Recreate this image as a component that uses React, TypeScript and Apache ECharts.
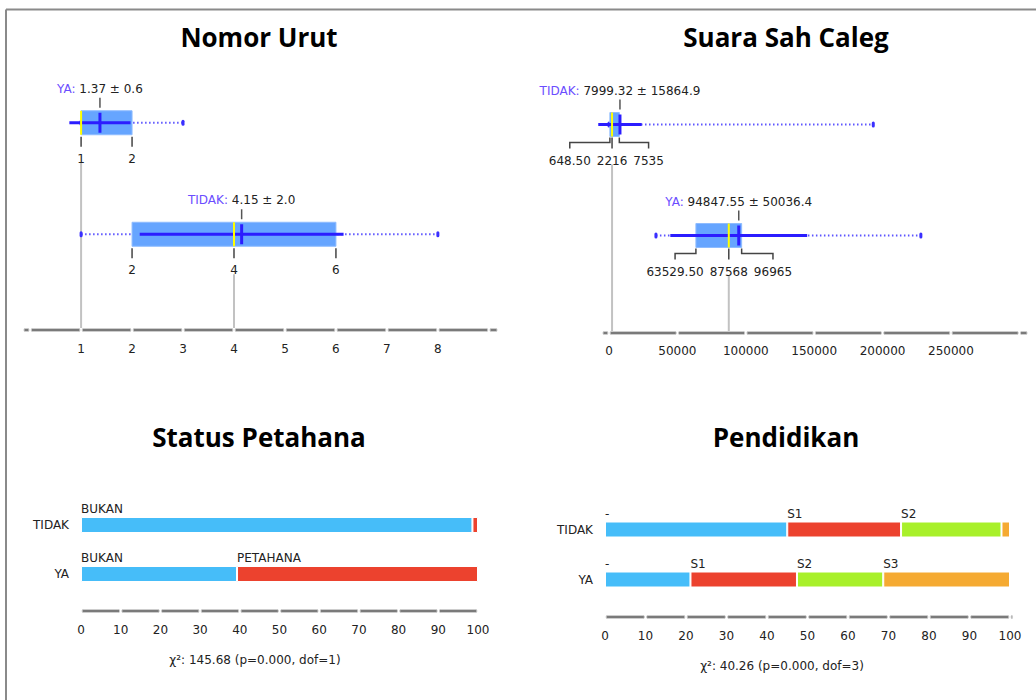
import React, { useEffect, useRef } from 'react';
import * as echarts from 'echarts';

const FONT_FAMILY = '"DejaVu Sans", Verdana, sans-serif';
const SMALL_FONT = '12px "DejaVu Sans", Verdana, sans-serif';
const TITLE_FONT = 'bold 26px "Open Sans", "Noto Sans", sans-serif';

// ---------- Nomor Urut (box plot) ----------
const NOMOR_ROWS = ['YA', 'TIDAK'];
const NOMOR_MIN = [1, 1];
const NOMOR_Q1 = [1, 2];
const NOMOR_MEDIAN = [1, 4];
const NOMOR_Q3 = [2, 6];
const NOMOR_MAX = [3, 8];
const NOMOR_MEAN = [1.37, 4.15];
const NOMOR_SD = [0.6, 2.0];
const NOMOR_TICKS = [1, 2, 3, 4, 5, 6, 7, 8];
const NOMOR_BREAKS = [0, 1, 2, 3, 4, 5, 6, 7, 8, 9];

// ---------- Suara Sah Caleg (box plot) ----------
const SUARA_ROWS = ['TIDAK', 'YA'];
const SUARA_MIN = [0, 34300];
const SUARA_Q1 = [648.5, 63529.5];
const SUARA_MEDIAN = [2216, 87568];
const SUARA_Q3 = [7535, 96965];
const SUARA_MAX = [193200, 228000];
const SUARA_MEAN = [7999.32, 94847.55];
const SUARA_SD = [15864.9, 50036.4];
const SUARA_TICKS = [0, 50000, 100000, 150000, 200000, 250000];
const SUARA_BREAKS = [0, 50000, 100000, 150000, 200000, 250000, 300000];

// ---------- Status Petahana (stacked %) ----------
const PETAHANA_ROWS = ['TIDAK', 'YA'];
const PETAHANA_BUKAN = [98.6, 39.3];
const PETAHANA_PETAHANA = [1.4, 60.7];
const PETAHANA_CHI = 'χ²: 145.68 (p=0.000, dof=1)';

// ---------- Pendidikan (stacked %) ----------
const PENDIDIKAN_ROWS = ['TIDAK', 'YA'];
const PENDIDIKAN_DASH = [45.0, 21.1];
const PENDIDIKAN_S1 = [28.1, 26.3];
const PENDIDIKAN_S2 = [24.8, 21.3];
const PENDIDIKAN_S3 = [2.1, 31.3];
const PENDIDIKAN_CHI = 'χ²: 40.26 (p=0.000, dof=3)';

const PERCENT_BREAKS = [0, 10, 20, 30, 40, 50, 60, 70, 80, 90, 100];

const COLORS = {
  blue: '#46bdf9',
  red: '#ec422e',
  green: '#a8f02a',
  orange: '#f5aa32',
};

let measureCtx: CanvasRenderingContext2D | null = null;
function textWidth(t: string, font: string) {
  if (!measureCtx) measureCtx = document.createElement('canvas').getContext('2d');
  if (!measureCtx) return t.length * 7;
  measureCtx.font = font;
  return measureCtx.measureText(t).width;
}

function fmtQ(v: number) {
  return Number.isInteger(v) ? String(v) : v.toFixed(2);
}

function makeAxisBar(gridIndex: number, xmin: number, xmax: number, breaks: number[], offset: number) {
  return {
    type: 'custom',
    xAxisIndex: gridIndex,
    yAxisIndex: gridIndex,
    silent: true,
    encode: { x: 0, y: 1 },
    data: [[xmin, 0]],
    renderItem: (params: any, api: any) => {
      const cs = params.coordSys;
      const y = cs.y + cs.height + offset;
      const X = (v: number) => api.coord([v, 0])[0];
      const inner = breaks.filter((b) => b >= xmin && b <= xmax);
      const edges = [xmin, ...inner, xmax];
      const children: any[] = [];
      for (let i = 0; i < edges.length - 1; i++) {
        const a = edges[i];
        const b = edges[i + 1];
        const x1 = X(a) + (inner.includes(a) ? 1.2 : 0);
        const x2 = X(b) - (inner.includes(b) ? 1.2 : 0);
        if (x2 - x1 < 0.5) continue;
        children.push({
          type: 'rect',
          shape: { x: x1, y: y - 1.5, width: x2 - x1, height: 3, r: 1 },
          style: { fill: '#7a7a7a', stroke: '#cdcdcd', lineWidth: 1 },
        });
      }
      return { type: 'group', children };
    },
  };
}

function makeBoxSeries(
  gridIndex: number,
  rows: string[],
  mins: number[],
  q1s: number[],
  meds: number[],
  q3s: number[],
  maxs: number[],
  means: number[],
  sds: number[],
  axisOffset: number
) {
  const data = rows.map((_, i) => [i, mins[i], q1s[i], meds[i], q3s[i], maxs[i], means[i], sds[i]]);
  return {
    type: 'custom',
    xAxisIndex: gridIndex,
    yAxisIndex: gridIndex,
    silent: true,
    encode: { x: [1, 2, 3, 4, 5], y: 0 },
    data,
    renderItem: (params: any, api: any) => {
      const ri = api.value(0);
      const mn = api.value(1);
      const q1 = api.value(2);
      const md = api.value(3);
      const q3 = api.value(4);
      const mx = api.value(5);
      const mean = api.value(6);
      const sd = api.value(7);
      const cs = params.coordSys;
      const axisY = cs.y + cs.height + axisOffset;
      const c = api.coord([md, ri])[1];
      const X = (v: number) => api.coord([v, ri])[0];
      const dark = '#2b1dff';
      const children: any[] = [];

      // grey median guide to axis
      children.push({
        type: 'line',
        shape: { x1: X(md), y1: c + 40, x2: X(md), y2: axisY - 2 },
        style: { stroke: '#c2c2c2', lineWidth: 2 },
      });
      // dotted whisker
      children.push({
        type: 'line',
        shape: { x1: X(mn), y1: c, x2: X(mx), y2: c },
        style: { stroke: '#5d55ff', lineWidth: 2, lineDash: [1.5, 2.5] },
      });
      [mn, mx].forEach((v) => {
        children.push({
          type: 'rect',
          shape: { x: X(v) - 1.5, y: c - 3, width: 3, height: 6, r: 1.5 },
          style: { fill: '#3a2fff' },
        });
      });
      // box
      children.push({
        type: 'rect',
        shape: { x: X(q1), y: c - 12, width: Math.max(1, X(q3) - X(q1)), height: 24 },
        style: { fill: '#66a5ff', stroke: '#8fbcff', lineWidth: 1 },
      });
      // sd line
      children.push({
        type: 'line',
        shape: { x1: X(mean - sd), y1: c, x2: X(mean + sd), y2: c },
        style: { stroke: dark, lineWidth: 3 },
      });
      // median
      children.push({
        type: 'line',
        shape: { x1: X(md), y1: c - 12, x2: X(md), y2: c + 12 },
        style: { stroke: '#ffff00', lineWidth: 2 },
      });
      // mean
      children.push({
        type: 'line',
        shape: { x1: X(mean), y1: c - 10, x2: X(mean), y2: c + 10 },
        style: { stroke: dark, lineWidth: 3 },
      });
      // label tick + label
      children.push({
        type: 'line',
        shape: { x1: X(mean), y1: c - 25, x2: X(mean), y2: c - 15 },
        style: { stroke: '#555', lineWidth: 1.5 },
      });
      children.push({
        type: 'text',
        style: {
          text: `{n|${rows[ri]}:} {v|${mean.toFixed(2)} ± ${sd.toFixed(1)}}`,
          x: X(mean),
          y: c - 34,
          align: 'center',
          verticalAlign: 'middle',
          font: SMALL_FONT,
          rich: {
            n: { fill: '#6b4dff', font: SMALL_FONT },
            v: { fill: '#222', font: SMALL_FONT },
          },
        },
      });

      // quartile labels
      const vals: number[] = [];
      [q1, md, q3].forEach((v) => {
        if (!vals.includes(v)) vals.push(v);
      });
      const labels = vals.map(fmtQ);
      const xs = vals.map(X);
      const ws = labels.map((t) => textWidth(t, SMALL_FONT));
      let overlap = false;
      for (let i = 0; i < vals.length - 1; i++) {
        if (xs[i + 1] - xs[i] < (ws[i] + ws[i + 1]) / 2 + 6) overlap = true;
      }
      const lineStyle = { stroke: '#444', lineWidth: 1.5, fill: 'none' };
      const pushLabel = (t: string, x: number) =>
        children.push({
          type: 'text',
          style: { text: t, x, y: c + 36, align: 'center', verticalAlign: 'middle', font: SMALL_FONT, fill: '#222' },
        });
      if (!overlap || vals.length !== 3) {
        vals.forEach((v, i) => {
          children.push({ type: 'line', shape: { x1: xs[i], y1: c + 14, x2: xs[i], y2: c + 24 }, style: lineStyle });
          pushLabel(labels[i], xs[i]);
        });
      } else {
        const gap = 6;
        const mxp = xs[1];
        const lc = mxp - ws[1] / 2 - gap - ws[0] / 2;
        const rc = mxp + ws[1] / 2 + gap + ws[2] / 2;
        children.push({
          type: 'polyline',
          shape: { points: [[xs[0], c + 13], [xs[0], c + 18], [lc, c + 18], [lc, c + 24]] },
          style: lineStyle,
        });
        children.push({ type: 'line', shape: { x1: mxp, y1: c + 13, x2: mxp, y2: c + 24 }, style: lineStyle });
        children.push({
          type: 'polyline',
          shape: { points: [[xs[2], c + 13], [xs[2], c + 18], [rc, c + 18], [rc, c + 24]] },
          style: lineStyle,
        });
        pushLabel(labels[0], lc);
        pushLabel(labels[1], mxp);
        pushLabel(labels[2], rc);
      }
      return { type: 'group', children };
    },
  };
}

function stackSeries(gridIndex: number, name: string, data: number[], color: string, stack: string) {
  return {
    type: 'bar',
    name,
    stack,
    xAxisIndex: gridIndex,
    yAxisIndex: gridIndex,
    barWidth: 16,
    silent: true,
    data,
    itemStyle: { color, borderColor: '#ffffff', borderWidth: 1 },
    label: {
      show: true,
      position: [0, -2],
      align: 'left',
      verticalAlign: 'bottom',
      color: '#222',
      fontSize: 12,
      fontFamily: FONT_FAMILY,
      formatter: (p: any) => (p.value >= 5 ? p.seriesName : ''),
    },
  };
}

const axisLabelBase = { color: '#222', fontSize: 12, fontFamily: FONT_FAMILY };
const plainNumber = (v: number) => String(v);

export default function App() {
  const ref = useRef<HTMLDivElement>(null);
  useEffect(() => {
    if (!ref.current) return;
    const chart = echarts.init(ref.current, undefined, { renderer: 'svg' });
    const NOMOR_XMIN = -0.12;
    const NOMOR_XMAX = 9.16;
    const SUARA_XMIN = -4400;
    const SUARA_XMAX = 305600;
    const option: any = {
      animation: false,
      backgroundColor: '#ffffff',
      grid: [
        { left: 24, width: 473, top: 67, height: 223 },
        { left: 603, width: 424, top: 69, height: 222 },
        { left: 81, width: 397, top: 500.5, height: 98 },
        { left: 605, width: 405, top: 504.5, height: 100 },
      ],
      xAxis: [
        {
          gridIndex: 0, type: 'value', min: NOMOR_XMIN, max: NOMOR_XMAX, position: 'bottom', offset: 40,
          axisLine: { show: false }, axisTick: { show: false }, splitLine: { show: false },
          axisLabel: { ...axisLabelBase, customValues: NOMOR_TICKS, margin: 13, formatter: plainNumber },
        },
        {
          gridIndex: 1, type: 'value', min: SUARA_XMIN, max: SUARA_XMAX, position: 'bottom', offset: 42,
          axisLine: { show: false }, axisTick: { show: false }, splitLine: { show: false },
          axisLabel: { ...axisLabelBase, customValues: SUARA_TICKS, margin: 12, formatter: plainNumber },
        },
        {
          gridIndex: 2, type: 'value', min: 0, max: 100, interval: 10, position: 'bottom', offset: 12.5,
          axisLine: { show: false }, axisTick: { show: false }, splitLine: { show: false },
          axisLabel: { ...axisLabelBase, margin: 13 },
        },
        {
          gridIndex: 3, type: 'value', min: 0, max: 100, interval: 10, position: 'bottom', offset: 12.5,
          axisLine: { show: false }, axisTick: { show: false }, splitLine: { show: false },
          axisLabel: { ...axisLabelBase, margin: 13 },
        },
      ],
      yAxis: [
        { gridIndex: 0, type: 'category', data: NOMOR_ROWS, inverse: true, show: false },
        { gridIndex: 1, type: 'category', data: SUARA_ROWS, inverse: true, show: false },
        {
          gridIndex: 2, type: 'category', data: PETAHANA_ROWS, inverse: true,
          axisLine: { show: false }, axisTick: { show: false }, splitLine: { show: false },
          axisLabel: { ...axisLabelBase, margin: 12 },
        },
        {
          gridIndex: 3, type: 'category', data: PENDIDIKAN_ROWS, inverse: true,
          axisLine: { show: false }, axisTick: { show: false }, splitLine: { show: false },
          axisLabel: { ...axisLabelBase, margin: 12 },
        },
      ],
      series: [
        makeAxisBar(0, NOMOR_XMIN, NOMOR_XMAX, NOMOR_BREAKS, 40),
        makeAxisBar(1, SUARA_XMIN, SUARA_XMAX, SUARA_BREAKS, 42),
        makeAxisBar(2, -0.3, 100.4, PERCENT_BREAKS, 12.5),
        makeAxisBar(3, -0.3, 100.6, PERCENT_BREAKS, 12.5),
        makeBoxSeries(0, NOMOR_ROWS, NOMOR_MIN, NOMOR_Q1, NOMOR_MEDIAN, NOMOR_Q3, NOMOR_MAX, NOMOR_MEAN, NOMOR_SD, 40),
        makeBoxSeries(1, SUARA_ROWS, SUARA_MIN, SUARA_Q1, SUARA_MEDIAN, SUARA_Q3, SUARA_MAX, SUARA_MEAN, SUARA_SD, 42),
        stackSeries(2, 'BUKAN', PETAHANA_BUKAN, COLORS.blue, 'p'),
        stackSeries(2, 'PETAHANA', PETAHANA_PETAHANA, COLORS.red, 'p'),
        stackSeries(3, '-', PENDIDIKAN_DASH, COLORS.blue, 'e'),
        stackSeries(3, 'S1', PENDIDIKAN_S1, COLORS.red, 'e'),
        stackSeries(3, 'S2', PENDIDIKAN_S2, COLORS.green, 'e'),
        stackSeries(3, 'S3', PENDIDIKAN_S3, COLORS.orange, 'e'),
      ],
      graphic: [
        { type: 'line', shape: { x1: 6, y1: 9.5, x2: 1036, y2: 9.5 }, style: { stroke: '#8a8a8a', lineWidth: 2 }, silent: true },
        { type: 'line', shape: { x1: 6, y1: 9.5, x2: 6, y2: 700 }, style: { stroke: '#8a8a8a', lineWidth: 2 }, silent: true },
        { type: 'text', x: 259, y: 37, style: { text: 'Nomor Urut', font: TITLE_FONT, fill: '#000', align: 'center', verticalAlign: 'middle' } },
        { type: 'text', x: 786, y: 37, style: { text: 'Suara Sah Caleg', font: TITLE_FONT, fill: '#000', align: 'center', verticalAlign: 'middle' } },
        { type: 'text', x: 259, y: 437, style: { text: 'Status Petahana', font: TITLE_FONT, fill: '#000', align: 'center', verticalAlign: 'middle' } },
        { type: 'text', x: 786, y: 437, style: { text: 'Pendidikan', font: TITLE_FONT, fill: '#000', align: 'center', verticalAlign: 'middle' } },
        { type: 'text', x: 255, y: 660, style: { text: PETAHANA_CHI, font: SMALL_FONT, fill: '#222', align: 'center', verticalAlign: 'middle' } },
        { type: 'text', x: 782, y: 666, style: { text: PENDIDIKAN_CHI, font: SMALL_FONT, fill: '#222', align: 'center', verticalAlign: 'middle' } },
      ],
    };
    chart.setOption(option);
    return () => chart.dispose();
  }, []);
  return <div ref={ref} style={{ position: 'absolute', left: 0, top: 0, width: 1036, height: 700 }} />;
}
